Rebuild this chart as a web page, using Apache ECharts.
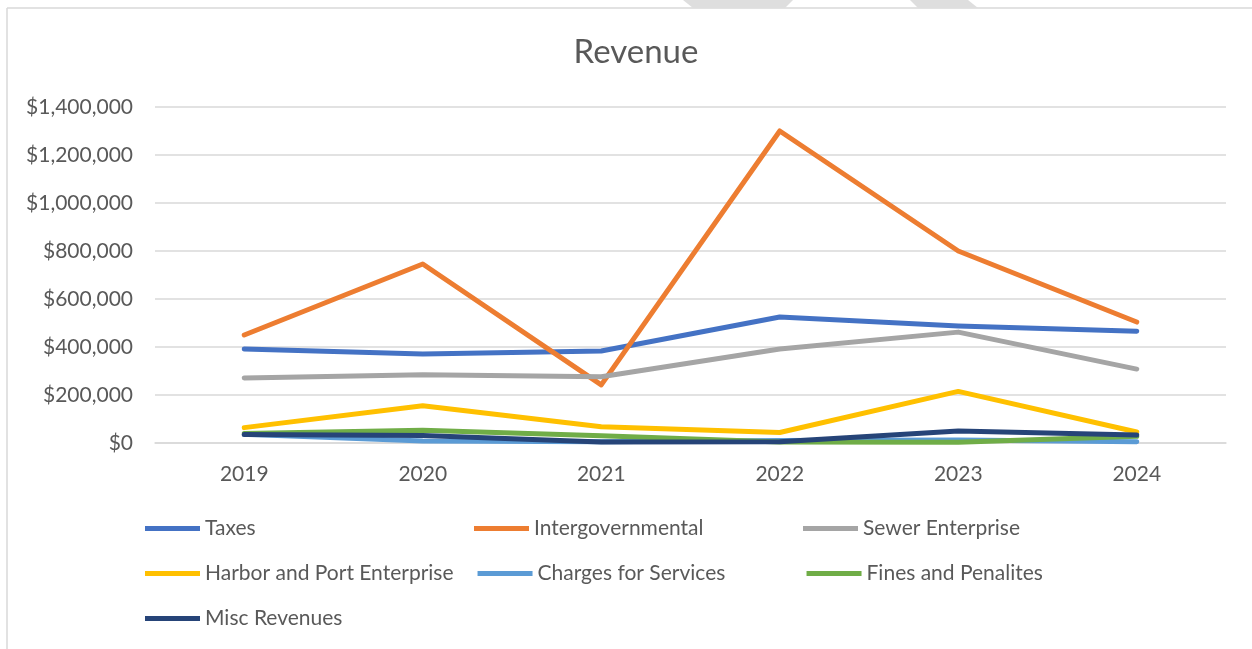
<!DOCTYPE html>
<html>
<head>
<meta charset="utf-8">
<title>Revenue</title>
<script src="https://cdn.jsdelivr.net/npm/echarts@6/dist/echarts.min.js"></script>
<style>
  html, body { margin: 0; padding: 0; background: #fff; }
  #main { width: 1252px; height: 649px; }
</style>
</head>
<body>
<div id="main"></div>
<script>
// data
var years = ['2019', '2020', '2021', '2022', '2023', '2024'];
var taxes = [392000, 371000, 383000, 525000, 488000, 466000];
var intergovernmental = [450000, 746000, 242000, 1300000, 800000, 504000];
var sewer = [271000, 284000, 276000, 392000, 462000, 308000];
var harbor = [64000, 155000, 68000, 44000, 215000, 46000];
var charges = [36000, 8000, 5000, 10000, 12000, 5000];
var fines = [40000, 53000, 30000, 4000, 3000, 28000];
var misc = [35000, 31000, 4000, 5000, 50000, 33000];

var names = ['Taxes', 'Intergovernmental', 'Sewer Enterprise', 'Harbor and Port Enterprise',
             'Charges for Services', 'Fines and Penalites', 'Misc Revenues'];
var colors = ['#4472C4', '#ED7D31', '#A5A5A5', '#FFC000', '#5B9BD5', '#70AD47', '#264478'];
var values = [taxes, intergovernmental, sewer, harbor, charges, fines, misc];

var font = 'Lato, "Open Sans", sans-serif';

function money(v) {
    return '$' + String(v).replace(/\B(?=(\d{3})+(?!\d))/g, ',');
}

var series = [];
// later series drawn on top (misc on top, like excel)
for (var i = 0; i < names.length; i++) {
    series.push({
        name: names[i],
        type: 'line',
        data: values[i],
        symbol: 'none',
        color: colors[i],
        lineStyle: { width: 5, color: colors[i], cap: 'round', join: 'round' },
        z: 2 + i
    });
}

var myChart = echarts.init(document.getElementById('main'));
var option = {
    animation: false,
    backgroundColor: '#fff',
    title: {
        text: 'Revenue',
        left: 631,
        textAlign: 'center',
        top: 31,
        textStyle: { fontFamily: font, fontSize: 33, fontWeight: 'normal', color: '#595959' }
    },
    graphic: [
        // frame
        { type: 'line', shape: { x1: 7, y1: 8, x2: 1252, y2: 8 }, style: { stroke: '#d9d9d9', lineWidth: 1.5 } },
        { type: 'line', shape: { x1: 7, y1: 8, x2: 7, y2: 649 }, style: { stroke: '#d9d9d9', lineWidth: 1.5 } },
        // grey shapes peeking in over the top
        { type: 'polygon', shape: { points: [[683, 0], [793, 0], [785, 8], [693, 8]] }, style: { fill: '#dedede' } },
        { type: 'polygon', shape: { points: [[910, 0], [968, 0], [978, 8], [918, 8]] }, style: { fill: '#dedede' } }
    ],
    legend: {
        data: names,
        left: 140,
        top: 513,
        width: 1000,
        itemWidth: 55,
        itemHeight: 5,
        itemGap: 24,
        icon: 'rect',
        textStyle: { fontFamily: font, fontSize: 21, color: '#595959', width: 245, lineHeight: 21 }
    },
    grid: {
        left: 155,
        right: 26,
        top: 107,
        bottom: 206,
        containLabel: false
    },
    xAxis: {
        type: 'category',
        data: years,
        boundaryGap: true,
        axisLine: { show: true, lineStyle: { color: '#d9d9d9', width: 1.5 } },
        axisTick: { show: false },
        axisLabel: { fontFamily: font, fontSize: 21, color: '#595959', margin: 21 }
    },
    yAxis: {
        type: 'value',
        min: 0,
        max: 1400000,
        interval: 200000,
        axisLine: { show: false },
        axisTick: { show: false },
        splitLine: { lineStyle: { color: '#d9d9d9', width: 1.5 } },
        axisLabel: { fontFamily: font, fontSize: 21, color: '#595959', margin: 22, formatter: money }
    },
    series: series
};
myChart.setOption(option);
</script>
</body>
</html>
